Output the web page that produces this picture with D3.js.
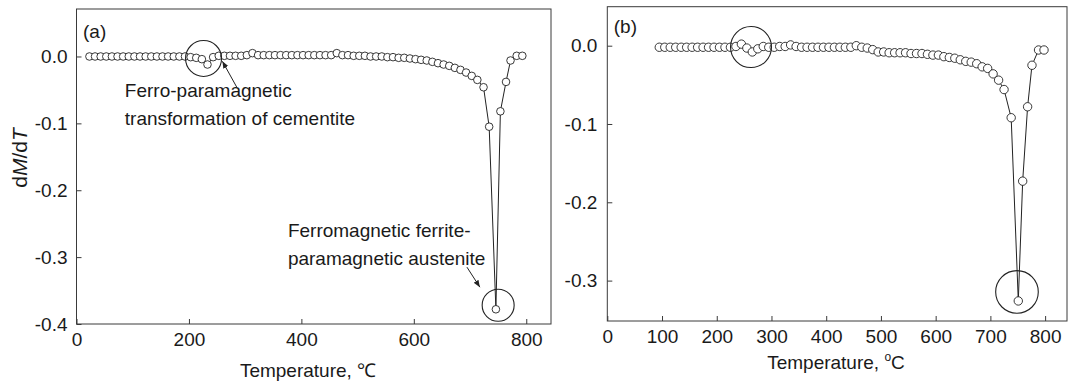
<!DOCTYPE html>
<html>
<head>
<meta charset="utf-8">
<script src="https://cdn.jsdelivr.net/npm/d3@7"></script>
<style>
  body { margin: 0; background: #fff; }
  svg { display: block; font-family: "Liberation Sans", Arial, sans-serif; }
</style>
</head>
<body>
<svg id="chart" width="1069" height="386"></svg>
<script>
// panel (a)
const tempA = [23, 33, 43, 53, 63, 73, 83, 93, 103, 113, 123, 133, 143, 153, 163, 173, 183, 193,
  203, 213, 223, 233, 243, 253, 263, 273, 283, 293, 303, 313, 323, 333, 343, 353, 363, 373,
  383, 393, 403, 413, 423, 433, 443, 453, 463, 473, 483, 493, 503, 513, 523, 533, 543, 553,
  563, 573, 583, 593, 603, 613, 623, 633, 643, 653, 663, 673, 683, 693, 703, 713,
  724, 734, 746, 754, 764, 772, 783, 793];
const dMdTa = [0, 0, 0, 0, 0, 0, 0, 0, 0, 0, 0, 0, 0, 0, 0, 0, 0, 0,
  -0.001, -0.002, -0.004, -0.012, -0.001, 0.001, 0.001, 0.001, 0.001, 0.001, 0.002, 0.005, 0.002, 0.002, 0.002, 0.002, 0.002, 0.002,
  0.002, 0.002, 0.002, 0.002, 0.002, 0.002, 0.002, 0.002, 0.005, 0.002, 0.002, 0.001, 0.001, 0.001, 0, 0, 0, -0.001,
  -0.001, -0.002, -0.002, -0.003, -0.004, -0.005, -0.006, -0.008, -0.010, -0.012, -0.014, -0.017, -0.020, -0.024, -0.029, -0.035,
  -0.046, -0.105, -0.378, -0.082, -0.038, -0.006, 0.001, 0.001];

// panel (b)
const tempB = [95, 105, 115, 125, 135, 145, 155, 165, 175, 185, 195, 205, 215, 225, 235,
  245, 255, 265, 275, 285, 295, 305, 315, 325, 335, 345, 355, 365, 375, 385, 395, 405, 415,
  425, 435, 445, 455, 465, 475, 485, 495, 505, 515, 525, 535, 545, 555, 565, 575, 585, 595,
  605, 615, 625, 635, 645, 655, 665, 675, 685, 695, 705, 715, 725,
  738, 751, 759, 768, 776, 788, 798];
const dMdTb = [-0.002, -0.002, -0.002, -0.002, -0.002, -0.002, -0.002, -0.002, -0.002, -0.002, -0.002, -0.002, -0.002, -0.002, -0.001,
  0.002, -0.003, -0.008, -0.004, -0.001, -0.002, -0.002, -0.001, -0.001, 0.001, -0.001, -0.002, -0.002, -0.002, -0.002, -0.002, -0.002, -0.002,
  -0.002, -0.002, -0.002, 0.000, -0.002, -0.003, -0.005, -0.008, -0.008, -0.009, -0.009, -0.009, -0.009, -0.010, -0.010, -0.010, -0.011, -0.012,
  -0.012, -0.014, -0.015, -0.016, -0.018, -0.020, -0.021, -0.023, -0.027, -0.029, -0.036, -0.044, -0.056,
  -0.092, -0.326, -0.173, -0.078, -0.025, -0.0055, -0.0055];

const xTicksA = [0, 200, 400, 600, 800];
const xTicksB = [0, 100, 200, 300, 400, 500, 600, 700, 800];
const yTicksA = [0, -0.1, -0.2, -0.3, -0.4];
const yTickLabelsA = ['0.0', '-0.1', '-0.2', '-0.3', '-0.4'];
const yTicksB = [0, -0.1, -0.2, -0.3];
const yTickLabelsB = ['0.0', '-0.1', '-0.2', '-0.3'];

const svg = d3.select('#chart');
const ink = '#222';
const fs = 19;

svg.append('defs').append('marker')
  .attr('id', 'arrow')
  .attr('viewBox', '0 0 10 10')
  .attr('refX', 10).attr('refY', 5)
  .attr('markerWidth', 7).attr('markerHeight', 7)
  .attr('markerUnits', 'userSpaceOnUse')
  .attr('orient', 'auto')
  .append('path')
  .attr('d', 'M0,1 L10,5 L0,9 Z')
  .attr('fill', ink);

function panel(p) {
  const x = d3.scaleLinear().domain(p.xDomain).range(p.xRange);
  const y = d3.scaleLinear().domain(p.yDomain).range(p.yRange);
  const g = svg.append('g');
  const pts = p.temps.map((t, i) => [t, p.vals[i]]);

  // frame
  g.append('rect')
    .attr('x', p.xRange[0]).attr('y', p.yRange[1])
    .attr('width', p.xRange[1] - p.xRange[0])
    .attr('height', p.yRange[0] - p.yRange[1])
    .attr('fill', 'none').attr('stroke', '#3a3a3a').attr('stroke-width', 1);

  const xAxis = g.append('g')
    .attr('transform', 'translate(0,' + p.yRange[0] + ')')
    .call(d3.axisBottom(x).tickValues(p.xTicks).tickSize(-5).tickSizeOuter(0).tickPadding(9).tickFormat(d3.format('d')));
  const yAxis = g.append('g')
    .attr('transform', 'translate(' + p.xRange[0] + ',0)')
    .call(d3.axisLeft(y).tickValues(p.yTicks).tickSize(-5).tickSizeOuter(0).tickPadding(p.yPad)
      .tickFormat((d, i) => p.yLabels[i]));
  [xAxis, yAxis].forEach(a => {
    a.select('.domain').remove();
    a.selectAll('line').attr('stroke', '#3a3a3a');
    a.selectAll('text').attr('fill', '#1a1a1a').style('font-size', fs + 'px').style('font-family', '"Liberation Sans", Arial, sans-serif');
  });

  g.append('path')
    .datum(pts)
    .attr('fill', 'none')
    .attr('stroke', ink)
    .attr('stroke-width', 1)
    .attr('d', d3.line().x(d => x(d[0])).y(d => y(d[1])));

  g.selectAll('circle.pt')
    .data(pts)
    .enter().append('circle')
    .attr('class', 'pt')
    .attr('cx', d => x(d[0]))
    .attr('cy', d => y(d[1]))
    .attr('r', p.r)
    .attr('fill', '#fff')
    .attr('stroke', ink)
    .attr('stroke-width', 0.9);

  // highlight rings
  p.rings.forEach(c => {
    g.append('circle')
      .attr('cx', x(c[0])).attr('cy', y(c[1])).attr('r', c[2])
      .attr('fill', 'none').attr('stroke', ink).attr('stroke-width', 1.1);
  });

  p.notes.forEach(n => {
    const t = g.append('text')
      .attr('x', x(n.x)).attr('y', y(n.y))
      .attr('fill', '#1a1a1a').style('font-size', fs + 'px');
    n.lines.forEach((s, i) => {
      t.append('tspan').attr('x', x(n.x)).attr('dy', i ? 28 : 0).text(s);
    });
  });

  p.arrows.forEach(a => {
    g.append('line')
      .attr('x1', x(a[0])).attr('y1', y(a[1]))
      .attr('x2', x(a[2])).attr('y2', y(a[3]))
      .attr('stroke', ink).attr('stroke-width', 1)
      .attr('marker-end', 'url(#arrow)');
  });

  g.append('text')
    .attr('x', p.xRange[0] + 6.5).attr('y', p.yRange[1] + p.tagDy)
    .attr('fill', '#1a1a1a').style('font-size', fs + 'px')
    .text(p.tag);

  const xt = g.append('text')
    .attr('x', p.titleX).attr('y', p.titleY)
    .attr('text-anchor', 'middle')
    .attr('fill', '#1a1a1a').style('font-size', fs + 'px')
    .text(p.xTitle);
  if (p.degree) {
    xt.append('tspan').attr('dy', -8).style('font-size', '12px').text('o');
    xt.append('tspan').attr('dy', 8).text('C');
  }
  return { x, y };
}

panel({
  temps: tempA, vals: dMdTa,
  xDomain: [0, 844], xRange: [76.5, 551],
  yDomain: [-0.4, 0.071], yRange: [324, 9],
  xTicks: xTicksA, yTicks: yTicksA, yLabels: yTickLabelsA, yPad: 9,
  r: 3.8,
  rings: [[226, -0.003, 18], [750, -0.372, 16]],
  notes: [
    { x: 86, y: -0.060, lines: ['Ferro-paramagnetic', 'transformation of cementite'] },
    { x: 376, y: -0.2705, lines: ['Ferromagnetic ferrite-', 'paramagnetic austenite'] }
  ],
  arrows: [[285, -0.0458, 259.5, -0.0072], [694.5, -0.315, 717.5, -0.345]],
  tag: '(a)', tagDy: 29,
  xTitle: 'Temperature, \u2103', titleX: 308, titleY: 377, degree: false
});

panel({
  temps: tempB, vals: dMdTb,
  xDomain: [0, 840], xRange: [607.3, 1067],
  yDomain: [-0.3516, 0.0498], yRange: [321, 6.7],
  xTicks: xTicksB, yTicks: yTicksB, yLabels: yTickLabelsB, yPad: 10,
  r: 4.2,
  rings: [[262.6, -0.0017, 20.5], [748.6, -0.3145, 21.3]],
  notes: [], arrows: [],
  tag: '(b)', tagDy: 26,
  xTitle: 'Temperature, ', titleX: 836, titleY: 369, degree: true
});

// shared y title
svg.append('text')
  .attr('transform', 'translate(27,158) rotate(-90)')
  .attr('text-anchor', 'middle')
  .attr('fill', '#1a1a1a')
  .style('font-size', '21px')
  .call(t => {
    t.append('tspan').text('d');
    t.append('tspan').style('font-style', 'italic').text('M');
    t.append('tspan').text('/d');
    t.append('tspan').style('font-style', 'italic').text('T');
  });
</script>
</body>
</html>
